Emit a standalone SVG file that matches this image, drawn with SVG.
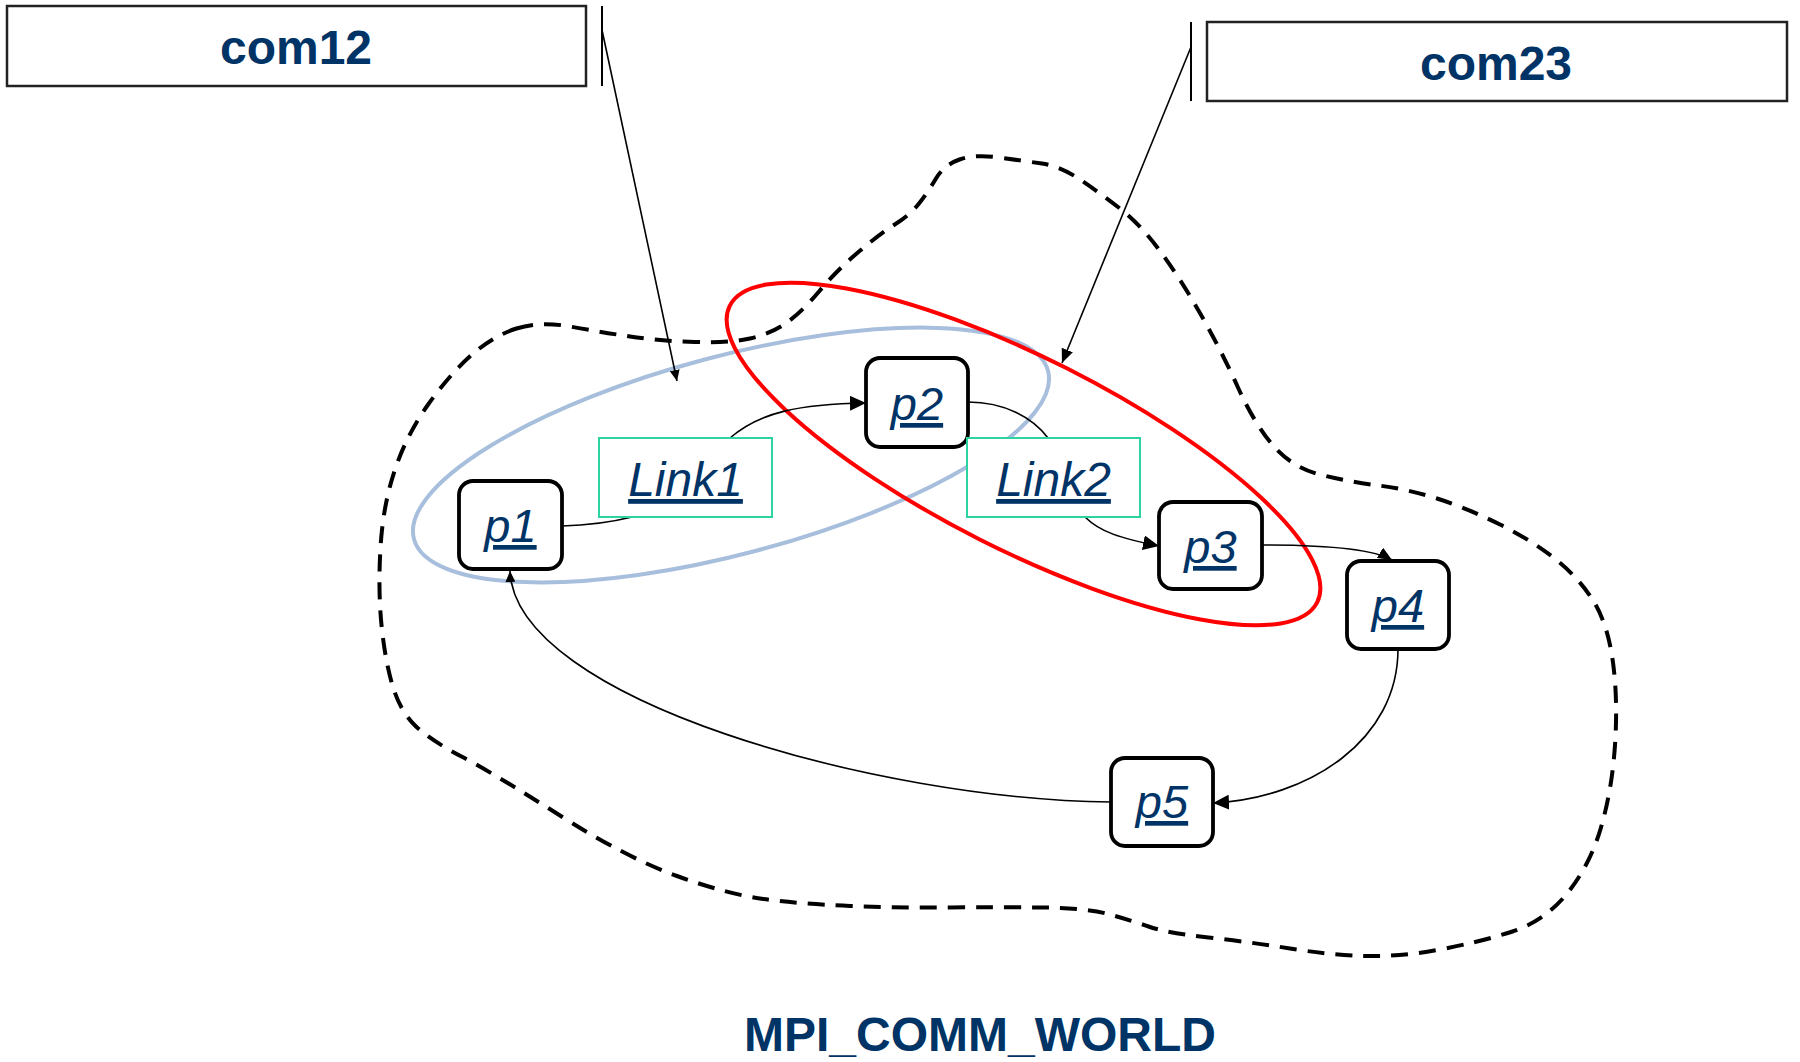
<svg xmlns="http://www.w3.org/2000/svg" width="1800" height="1062" viewBox="0 0 1800 1062">
<style>
.node rect{fill:#fff;stroke:#000;stroke-width:3.8}
.link rect{fill:#fff;stroke:#2BD4A0;stroke-width:2}
.com rect{fill:#fff;stroke:#222;stroke-width:2.5}
.bar{stroke:#000;stroke-width:2}
.lbl{font-family:"Liberation Sans",Arial,sans-serif;font-style:italic;font-size:47px;fill:#003366;text-anchor:middle;text-decoration:underline;text-decoration-thickness:4px;text-underline-offset:5px}
.link .lbl{font-size:48px}
.title{font-family:"Liberation Sans",Arial,sans-serif;font-weight:bold;font-size:48px;fill:#003366;text-anchor:middle}
.conn{fill:none;stroke:#000;stroke-width:1.6}
</style>
<defs>
<marker id="arrL" markerUnits="userSpaceOnUse" markerWidth="16" markerHeight="15" viewBox="0 0 16 15" refX="16" refY="7.5" orient="auto"><path d="M0,0 L16,7.5 L0,15 Z" fill="#000"/></marker>
<marker id="arrM" markerUnits="userSpaceOnUse" markerWidth="14" markerHeight="12" viewBox="0 0 14 12" refX="14" refY="6" orient="auto"><path d="M0,0 L14,6 L0,12 Z" fill="#000"/></marker>
<marker id="arrS" markerUnits="userSpaceOnUse" markerWidth="11" markerHeight="10" viewBox="0 0 11 10" refX="11" refY="5" orient="auto"><path d="M0,0 L11,5 L0,10 Z" fill="#000"/></marker>
</defs>
<rect width="1800" height="1062" fill="#fff"/>

<g id="world">
<path fill="none" stroke="#000" stroke-width="4" stroke-dasharray="17 11" d="M516.5,328.5 Q540,321 570,326.5 Q600,332 630,336.5 Q660,341 695,342 Q730,343 750,338.5 Q770,334 785.5,323.5 Q801,313 819,291.5 Q837,270 859,251.5 Q881,233 895.5,224 Q910,215 919,203.5 Q928,192 936,178.5 Q944,165 959.5,159.5 Q975,154 999.5,157.5 Q1024,161 1042,163.5 Q1060,166 1080,179.5 Q1100,193 1120,208.5 Q1140,224 1160,251 Q1180,278 1200.5,314 Q1221,350 1238,387.5 Q1255,425 1274,446.5 Q1293,468 1321.5,475 Q1350,482 1378.5,485.5 Q1407,489 1437,498.5 Q1467,508 1500,524.5 Q1533,541 1556.5,560 Q1580,579 1594,602 Q1608,625 1613,662.5 Q1618,700 1615,745 Q1612,790 1601,827.5 Q1590,865 1567.5,893 Q1545,921 1512.5,931.5 Q1480,942 1440,949.5 Q1400,957 1365,956 Q1330,955 1290,948.5 Q1250,942 1208.5,937.5 Q1167,933 1148.5,926.5 Q1130,920 1108,914 Q1086,908 1043,907.5 Q1000,907 950,907.5 Q900,908 850,906 Q800,904 763.5,899 Q727,894 677,876 Q627,858 560,815.5 Q493,773 461.5,756.5 Q430,740 415,725.5 Q400,711 392.5,685.5 Q385,660 381.5,625 Q378,590 380.5,547.5 Q383,505 395,469.5 Q407,434 428.5,404 Q450,374 471.5,355 Q493,336 516.5,328.5 Z"/>
<text class="title" x="980" y="1051">MPI_COMM_WORLD</text>
</g>

<g id="groups" fill="none">
<ellipse id="com12-set" cx="731" cy="455" rx="328" ry="99" transform="rotate(-14.85 731 455)" stroke="#A7BFDC" stroke-width="4"/>
<ellipse id="com23-set" cx="1023.5" cy="454" rx="329" ry="96" transform="rotate(26.8 1023.5 454)" stroke="#FF0000" stroke-width="4"/>
</g>

<g id="connectors" class="conn">
<path class="conn" d="M602,30 L677,381" marker-end="url(#arrS)"/>
<path class="conn" d="M1191,47 L1062,363" marker-end="url(#arrM)"/>
<path class="conn" d="M562,526 Q600,525 632,517"/>
<path class="conn" d="M730,438 C760,412 800,404 866,403" marker-end="url(#arrL)"/>
<path class="conn" d="M968,402 C1005,402 1033,418 1048,438"/>
<path class="conn" d="M1085,517 C1100,532 1120,538 1159,546" marker-end="url(#arrL)"/>
<path class="conn" d="M1262,545 C1320,545 1372,548 1392,560" marker-end="url(#arrM)"/>
<path class="conn" d="M1398,649 C1398,740 1310,798 1213,803" marker-end="url(#arrL)"/>
<path class="conn" d="M1111,802 C880,800 515,700 510,571" marker-end="url(#arrS)"/>
</g>

<g id="com12" class="com">
<rect x="7" y="6" width="579" height="80"/>
<line class="bar" x1="602" y1="6" x2="602" y2="86"/>
<text class="title" x="296" y="64">com12</text>
</g>
<g id="com23" class="com">
<rect x="1207" y="22" width="580" height="79"/>
<line class="bar" x1="1191" y1="22" x2="1191" y2="101"/>
<text class="title" x="1496" y="80">com23</text>
</g>

<g id="p1" class="node"><rect x="459" y="481" width="103" height="88" rx="14"/><text class="lbl" x="510.5" y="542">p1</text></g>
<g id="p2" class="node"><rect x="866" y="358" width="102" height="89" rx="14"/><text class="lbl" x="917" y="420">p2</text></g>
<g id="p3" class="node"><rect x="1159" y="502" width="103" height="87" rx="14"/><text class="lbl" x="1210.5" y="563">p3</text></g>
<g id="p4" class="node"><rect x="1347" y="561" width="102" height="88" rx="14"/><text class="lbl" x="1398" y="622">p4</text></g>
<g id="p5" class="node"><rect x="1111" y="758" width="102" height="88" rx="14"/><text class="lbl" x="1162" y="818">p5</text></g>

<g id="Link1" class="link"><rect x="599" y="438" width="173" height="79"/><text class="lbl" x="685.5" y="496">Link1</text></g>
<g id="Link2" class="link"><rect x="967" y="438" width="173" height="79"/><text class="lbl" x="1053.5" y="496">Link2</text></g>
</svg>
